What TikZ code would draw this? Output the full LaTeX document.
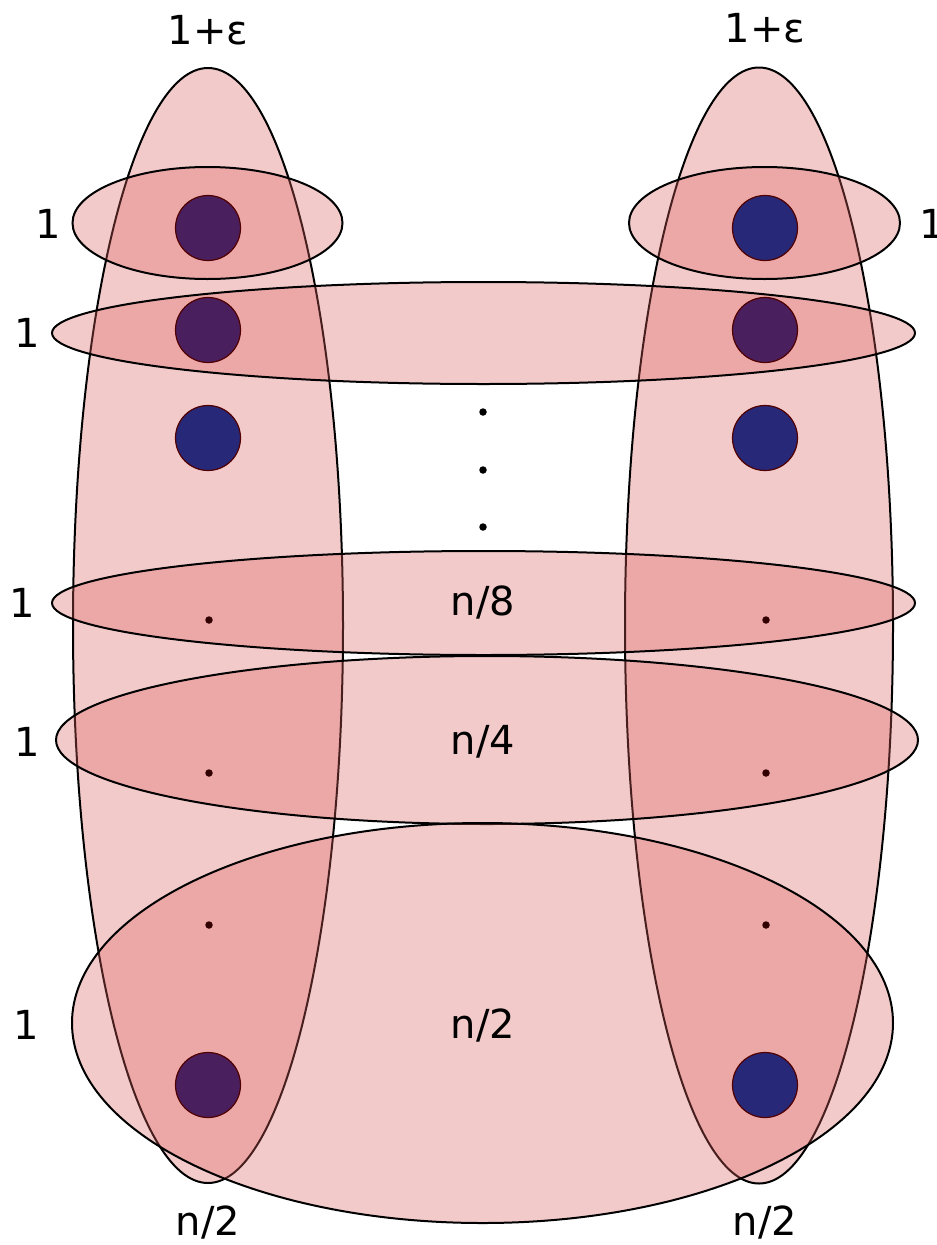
\documentclass[tikz,border=0pt]{standalone}
\usepackage{fontspec}
\setmainfont{DejaVu Sans}
\definecolor{blobfill}{RGB}{220,95,95}
\definecolor{dotpurple}{RGB}{74,31,94}
\definecolor{dotblue}{RGB}{40,40,120}
\definecolor{dotedge}{RGB}{80,0,0}
\definecolor{smalldotc}{RGB}{50,0,0}
\tikzset{
  blob/.style={fill=blobfill, fill opacity=0.33, draw=black, draw opacity=1, line width=2pt},
  bigdot/.style={circle, minimum size=65pt, inner sep=0pt, draw=dotedge, line width=1.2pt},
  pdot/.style={bigdot, fill=dotpurple},
  bdot/.style={bigdot, fill=dotblue},
  smalldot/.style={circle, minimum size=7.5pt, inner sep=0pt, fill=smalldotc},
  blackdot/.style={circle, minimum size=7.5pt, inner sep=0pt, fill=black},
  lbl/.style={font=\fontsize{40pt}{44pt}\selectfont, inner sep=0pt}
}
\begin{document}
\begin{tikzpicture}[x=1pt,y=-1pt]
\useasboundingbox (0,0) rectangle (937,1245);
% column ellipses
\path[blob] (208,625.5) ellipse [x radius=135pt, y radius=557.5pt];
\path[blob] (759,625.5) ellipse [x radius=134pt, y radius=558pt];
% top small ellipses
\path[blob] (207.5,223) ellipse [x radius=135pt, y radius=56pt];
\path[blob] (764.5,223) ellipse [x radius=135.5pt, y radius=56pt];
% row ellipses
\path[blob] (483.5,333) ellipse [x radius=431.5pt, y radius=51pt];
\path[blob] (483.5,603) ellipse [x radius=431.5pt, y radius=52pt];
\path[blob] (487,740) ellipse [x radius=431pt, y radius=84pt];
\path[blob] (482.5,1023) ellipse [x radius=410.5pt, y radius=200pt];
% big dots
\node[pdot] (l1) at (208,228) {};
\node[pdot] (l2) at (208,330) {};
\node[bdot] (l3) at (208,438) {};
\node[pdot] (l4) at (208,1085) {};
\node[bdot] (r1) at (765,228) {};
\node[pdot] (r2) at (765,330) {};
\node[bdot] (r3) at (765,438) {};
\node[bdot] (r4) at (765,1085) {};
% small dots
\node[smalldot] (ls1) at (209,620) {};
\node[smalldot] (ls2) at (209,773) {};
\node[smalldot] (ls3) at (209,925) {};
\node[smalldot] (rs1) at (766,620) {};
\node[smalldot] (rs2) at (766,773) {};
\node[smalldot] (rs3) at (766,925) {};
\node[blackdot] (v1) at (483,412) {};
\node[blackdot] (v2) at (483,470) {};
\node[blackdot] (v3) at (483,527) {};
% labels
\node[lbl] (tl) at (208,30) {1+ε};
\node[lbl] (tr) at (765,28) {1+ε};
\node[lbl] (bl) at (208,1222) {n/2};
\node[lbl] (br) at (765,1222) {n/2};
\node[lbl] (c8) at (483,603) {n/8};
\node[lbl] (c4) at (483,742) {n/4};
\node[lbl] (c2) at (483,1025) {n/2};
\node[lbl] (a1) at (48,224) {1};
\node[lbl] (a2) at (27,333) {1};
\node[lbl] (a3) at (22,603) {1};
\node[lbl] (a4) at (27,742) {1};
\node[lbl] (a5) at (26,1025) {1};
\node[lbl] (a6) at (932,224) {1};
\end{tikzpicture}
\end{document}
